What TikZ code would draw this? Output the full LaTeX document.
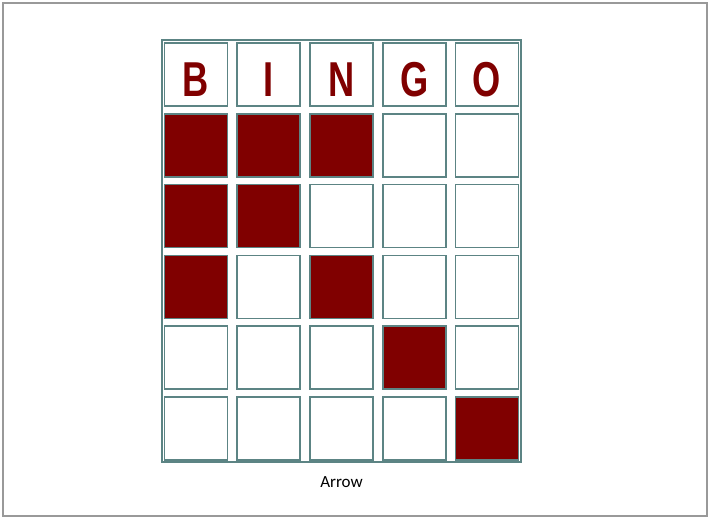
\documentclass[tikz,border=0pt]{standalone}
\usepackage{fontspec}
\setmainfont{Carlito}
\newfontfamily\bingofont[FakeStretch=0.74]{Liberation Sans}
\usetikzlibrary{positioning,calc}
\definecolor{cardred}{RGB}{128,0,0}
\definecolor{cardline}{RGB}{92,132,132}

\begin{document}
\begin{tikzpicture}[x=1pt, y=-1pt,
    cell/.style={draw=cardline, line width=1.6pt, fill=white, minimum size=63pt, inner sep=0pt},
    hit/.style={cell, fill=cardred},
    letter/.style={font=\bingofont\bfseries\fontsize{49}{49}\selectfont, text=cardred, text height=44pt, text depth=0pt}]
    \useasboundingbox (0,0) rectangle (710,519);

    % Slide frame
    \draw[gray!80, line width=2.2pt] (3,3) rectangle (707,516);

    % Card frame
    \draw[cardline, line width=1.6pt] (162,40) rectangle (521,462);

    % Header row
    \foreach \ch [count=\c] in {B,I,N,G,O}
        \node[cell, letter] (h\c) at ({196+72.75*(\c-1)}, 74.5) {\ch};

    % Number rows
    \foreach \r in {1,...,5}
        \foreach \c in {1,...,5}
            \node[cell] (c\r\c) at ({196+72.75*(\c-1)}, {74.5+70.8*\r}) {};

    % Marked squares
    \foreach \r/\c in {1/1, 1/2, 1/3, 2/1, 2/2, 3/1, 3/3, 4/4, 5/5}
        \node[hit] at (c\r\c) {};

    % Caption
    \node[font=\fontsize{17}{17}\selectfont] (caption) at (341.5, 482) {Arrow};
\end{tikzpicture}
\end{document}
